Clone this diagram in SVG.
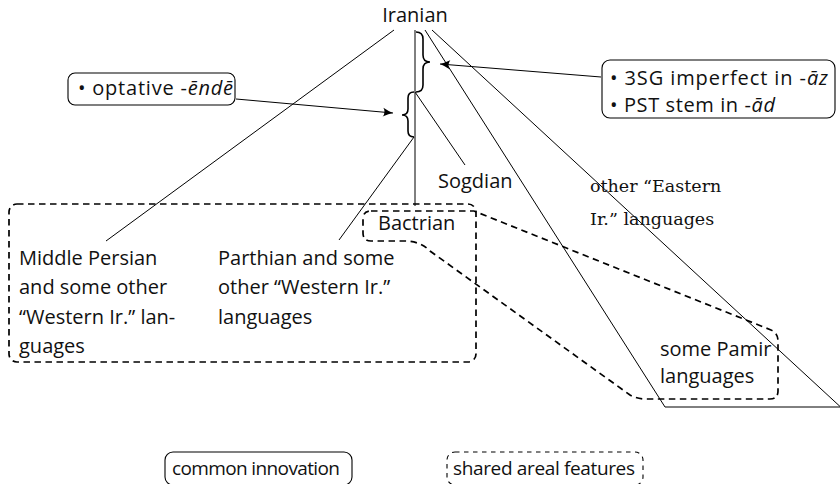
<svg xmlns="http://www.w3.org/2000/svg" width="840" height="484" viewBox="0 0 840 484">
<style>
  text { font-family: "Open Sans", "Noto Sans", sans-serif; font-size: 20px; fill: #111; }
  .serif { font-family: "DejaVu Serif", "Liberation Serif", serif; font-size: 17.5px; }
  .legend { font-size: 19px; }
  .thin { fill: none; stroke: #000; stroke-width: 1; }
  .brace { fill: none; stroke: #000; stroke-width: 1.6; }
  .box { fill: #fff; stroke: #000; stroke-width: 1.1; }
  .area { fill: none; stroke: #000; stroke-width: 1.7; stroke-dasharray: 6.5 4.5; }
  .areaLeg { fill: none; stroke: #000; stroke-width: 1.1; stroke-dasharray: 4.5 4.5; }
  .arrow { fill: none; stroke: #000; stroke-width: 1; marker-end: url(#ah); }
</style>
<defs>
  <marker id="ah" viewBox="-11 -5 12 10" markerWidth="12" markerHeight="10" refX="0" refY="0" orient="auto" markerUnits="userSpaceOnUse">
    <path d="M -10,-4.5 Q -4,-1.2 0,0 Q -4,1.2 -10,4.5 Q -7,0 -10,-4.5 Z" fill="#000"/>
  </marker>
</defs>

<g id="connectors">
  <line class="thin" x1="394" y1="30" x2="106" y2="241"/>
  <line class="thin" x1="415" y1="30" x2="415" y2="206"/>
  <line class="thin" x1="414" y1="137" x2="339" y2="240"/>
  <line class="thin" x1="415" y1="92" x2="465" y2="165"/>
  <polyline class="thin" points="425,30 665,407 846,407"/>
  <line class="thin" x1="432" y1="30" x2="846" y2="412"/>
  <path class="brace" d="M 416,32 q 7,0 7,7 L 423,55 q 0,7 7,7 q -7,0 -7,7 L 423,85 q 0,7 -7,7"/>
  <path class="brace" d="M 414,92 q -6,0 -6,6 L 408,109 q 0,6 -6,6 q 6,0 6,6 L 408,131 q 0,6 6,6"/>
  <line class="arrow" x1="236" y1="99" x2="393" y2="113"/>
  <line class="arrow" x1="601" y1="77" x2="440" y2="64"/>
</g>

<g id="areas">
  <rect class="area" x="9" y="204" width="467" height="158" rx="8"/>
  <path class="area" d="M 371,211 L 474,211 L 771,330 Q 778,333 778,341 L 778,391 Q 778,399 770,399 L 646,399 Q 637,399 630,395 L 430,251 Q 420,241 405,241 L 371,241 Q 363,241 363,233 L 363,219 Q 363,211 371,211 Z"/>
</g>

<g id="iranian"><text x="415" y="22" text-anchor="middle">Iranian</text></g>

<g id="optative">
  <rect class="box" x="68" y="73" width="167" height="32" rx="7"/>
  <text x="78" y="95" textLength="155" lengthAdjust="spacing">• optative -<tspan font-style="italic">ēndē</tspan></text>
</g>

<g id="eastern-features">
  <rect class="box" x="602" y="60" width="233" height="58" rx="8"/>
  <text x="610" y="85" textLength="218" lengthAdjust="spacing">• 3SG imperfect in -<tspan font-style="italic">āz</tspan></text>
  <text x="610" y="111.5" textLength="165" lengthAdjust="spacing">• PST stem in -<tspan font-style="italic">ād</tspan></text>
</g>

<g id="sogdian"><text x="438" y="188">Sogdian</text></g>

<g id="other-eastern">
  <text class="serif" x="590" y="192">other “Eastern</text>
  <text class="serif" x="590" y="225">Ir.” languages</text>
</g>

<g id="bactrian"><text x="378" y="229.5">Bactrian</text></g>

<g id="middle-persian">
  <text x="19" y="264.5">Middle Persian</text>
  <text x="19" y="294">and some other</text>
  <text x="19" y="323.5">“Western Ir.” lan-</text>
  <text x="19" y="353">guages</text>
</g>

<g id="parthian">
  <text x="218" y="264.5">Parthian and some</text>
  <text x="218" y="294">other “Western Ir.”</text>
  <text x="218" y="323.5">languages</text>
</g>

<g id="pamir">
  <text x="660" y="355.5">some Pamir</text>
  <text x="660" y="383">languages</text>
</g>

<g id="legend-innovation">
  <rect class="box" x="165" y="452" width="187" height="33" rx="8"/>
  <text class="legend" x="172" y="474.5" textLength="168" lengthAdjust="spacing">common innovation</text>
</g>

<g id="legend-areal">
  <rect class="areaLeg" x="447" y="452" width="196" height="33" rx="8"/>
  <text class="legend" x="453" y="474.5" textLength="182" lengthAdjust="spacing">shared areal features</text>
</g>
</svg>
